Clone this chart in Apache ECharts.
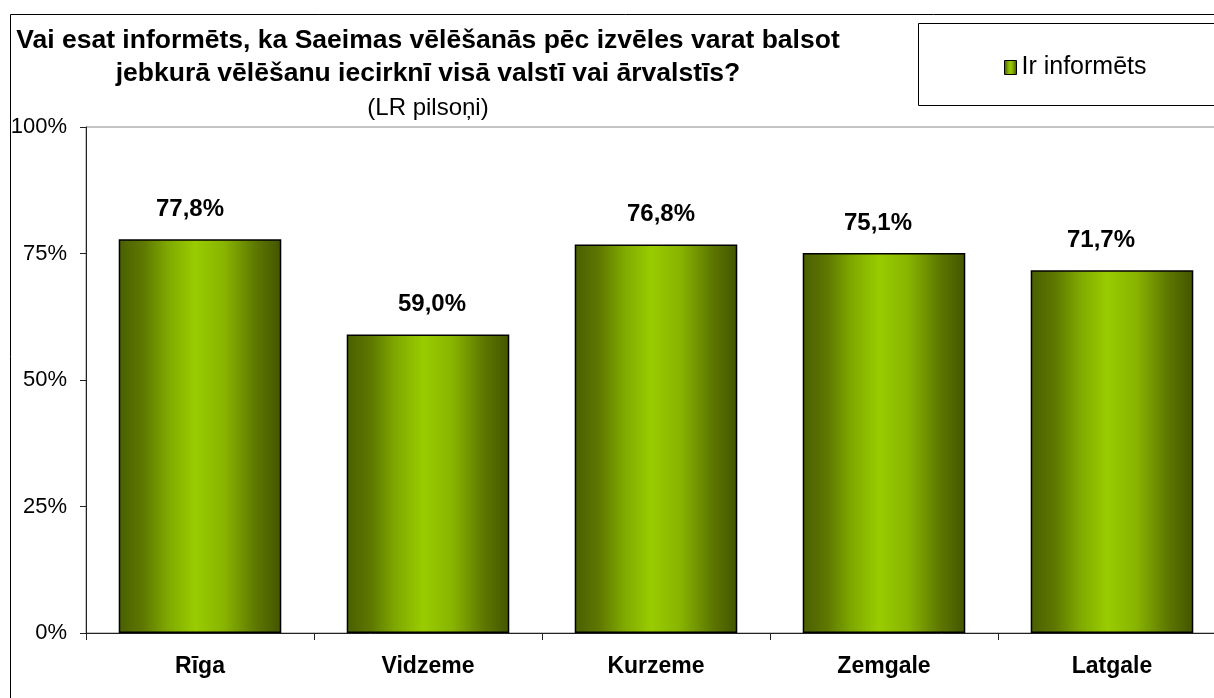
<!DOCTYPE html>
<html>
<head>
<meta charset="utf-8">
<script src="https://cdn.jsdelivr.net/npm/echarts@6/dist/echarts.min.js"></script>
<style>html,body{margin:0;padding:0;background:#fff;overflow:hidden;width:1214px;height:698px}#c{width:1240px;height:698px}</style>
</head>
<body>
<div id="c"></div>
<script>
var categories = ['Rīga', 'Vidzeme', 'Kurzeme', 'Zemgale', 'Latgale'];
var values = [77.8, 59.0, 76.8, 75.1, 71.7];
var seriesName = 'Ir informēts';
var yTicks = [0, 25, 50, 75, 100];
var titleText = 'Vai esat informēts, ka Saeimas vēlēšanās pēc izvēles varat balsot\njebkurā vēlēšanu iecirknī visā valstī vai ārvalstīs?';
var subText = '(LR pilsoņi)';

// style: small horizontal nudges of the value labels as placed in the original
var labelNudge = [-10, 4, 5, -6, -11];

var font = 'Liberation Sans, Arial, sans-serif';
var barGrad = new echarts.graphic.LinearGradient(0, 0, 1, 0, [
  {offset: 0, color: '#4a5f00'},
  {offset: 0.15, color: '#5d7800'},
  {offset: 0.3, color: '#7fa800'},
  {offset: 0.47, color: '#99cc00'},
  {offset: 0.65, color: '#88b400'},
  {offset: 0.85, color: '#5c7600'},
  {offset: 1, color: '#435500'}
]);

var barData = values.map(function (v, i) {
  return {value: v, label: {offset: [labelNudge[i], 0]}};
});

var chart = echarts.init(document.getElementById('c'), null, {renderer: 'canvas'});
chart.setOption({
  animation: false,
  title: {
    text: titleText,
    subtext: subText,
    left: 423,
    top: 19,
    textAlign: 'center',
    itemGap: 5,
    textStyle: {fontFamily: font, fontSize: 26.5, fontWeight: 'bold', color: '#000', lineHeight: 33},
    subtextStyle: {fontFamily: font, fontSize: 24, color: '#000', lineHeight: 26}
  },
  graphic: [
    {type: 'rect', shape: {x: 10.5, y: 14.5, width: 1400, height: 900}, style: {fill: 'none', stroke: '#000', lineWidth: 1}, z: -1},
    {type: 'rect', shape: {x: 918.5, y: 23.5, width: 400, height: 82}, style: {fill: '#fff', stroke: '#000', lineWidth: 1}, z: 0}
  ],
  legend: {
    data: [seriesName],
    left: 999,
    top: 50,
    itemWidth: 12,
    itemHeight: 14,
    itemGap: 8,
    icon: 'rect',
    z: 5,
    textStyle: {fontFamily: font, fontSize: 25, color: '#000'},
    itemStyle: {borderColor: '#000', borderWidth: 1}
  },
  grid: {
    left: 86, top: 127, bottom: 65, width: 1140,
    show: true, borderColor: '#888', borderWidth: 1, backgroundColor: 'transparent'
  },
  xAxis: {
    type: 'category',
    data: categories,
    axisLine: {lineStyle: {color: '#222', width: 1}},
    axisTick: {show: true, length: 7, alignWithLabel: false, lineStyle: {color: '#222'}},
    axisLabel: {fontFamily: font, fontSize: 23, fontWeight: 'bold', color: '#000', margin: 22}
  },
  yAxis: {
    type: 'value',
    min: 0, max: 100, interval: 25,
    splitLine: {show: false},
    axisLine: {show: true, lineStyle: {color: '#222', width: 1}},
    axisTick: {show: true, length: 6, inside: false, lineStyle: {color: '#222'}},
    axisLabel: {fontFamily: font, fontSize: 22, color: '#000', margin: 19,
      formatter: function (v) { return yTicks.indexOf(v) >= 0 ? v + '%' : ''; }}
  },
  series: [{
    name: seriesName,
    type: 'bar',
    data: barData,
    barWidth: '71.3%',
    itemStyle: {color: barGrad, borderColor: '#000', borderWidth: 1.5},
    label: {
      show: true, position: 'top', distance: 18,
      fontFamily: font, fontSize: 24, fontWeight: 'bold', color: '#000',
      formatter: function (p) { return p.value.toFixed(1).replace('.', ',') + '%'; }
    }
  }]
});
</script>
</body>
</html>
